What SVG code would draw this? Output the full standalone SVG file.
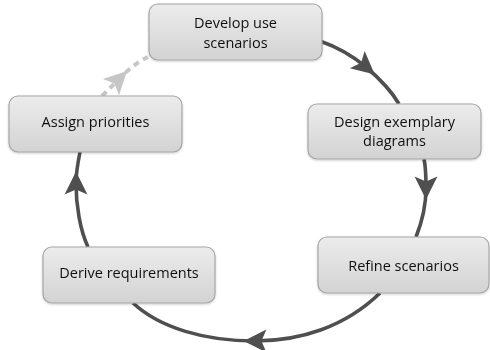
<svg xmlns="http://www.w3.org/2000/svg" width="490" height="350" viewBox="0 0 490 350">
<style>
.box{fill:url(#g);stroke:#a6a6a6;stroke-width:1.2}
.lbl{font-family:"Open Sans","Liberation Sans",sans-serif;font-size:14.5px;fill:#111;text-anchor:middle}
.c{fill:none;stroke:#4f4f4f;stroke-width:3.6;marker-mid:url(#ah)}
.d{fill:none;stroke:#c6c6c6;stroke-width:4;stroke-dasharray:6 5;marker-mid:url(#ahd)}
</style>
<defs>
<linearGradient id="g" x1="0" y1="0" x2="0" y2="1">
<stop offset="0" stop-color="#ececec"/>
<stop offset="1" stop-color="#d3d3d3"/>
</linearGradient>
<filter id="sh" x="-10%" y="-10%" width="120%" height="130%">
<feDropShadow dx="0" dy="1" stdDeviation="1.2" flood-color="#000" flood-opacity="0.2"/>
</filter>
<marker id="ah" markerUnits="userSpaceOnUse" markerWidth="20" markerHeight="20" refX="7" refY="7" orient="auto" viewBox="0 0 14 14" overflow="visible">
<path d="M-1,-1 L15,7 L-1,15 L2.5,7 Z" fill="#4f4f4f"/>
</marker>
<marker id="ahd" markerUnits="userSpaceOnUse" markerWidth="20" markerHeight="20" refX="7" refY="7" orient="auto" viewBox="0 0 14 14" overflow="visible">
<path d="M-1,-1 L15,7 L-1,15 L2.5,7 Z" fill="#c6c6c6"/>
</marker>
</defs>
<g id="connectors">
<path class="c" d="M320,41 C340,48 354,57 366,67 C380,79 391,90 399,104"/>
<path class="c" d="M424,159 C426,168 426,178 426,188 C426,205 422,222 416,237"/>
<path class="c" d="M380,293 C345,327 300,341 255,341 C205,341 160,328 133,303"/>
<path class="c" d="M88,247 C80,230 76,205 76,183 C76,172 78,162 80,152"/>
<path class="d" d="M102,96 C108,90 113,85 119,79 C128,70 137,62 148,57"/>
</g>
<g id="n1" filter="url(#sh)">
<rect class="box" x="149" y="4" width="173" height="56" rx="9"/>
<text class="lbl" x="235.5" y="28">Develop use</text>
<text class="lbl" x="235.5" y="48">scenarios</text>
</g>
<g id="n2" filter="url(#sh)">
<rect class="box" x="308" y="104" width="173" height="55" rx="9"/>
<text class="lbl" x="394.5" y="127">Design exemplary</text>
<text class="lbl" x="394.5" y="146">diagrams</text>
</g>
<g id="n3" filter="url(#sh)">
<rect class="box" x="318" y="237" width="171" height="56" rx="9"/>
<text class="lbl" x="403.5" y="271">Refine scenarios</text>
</g>
<g id="n4" filter="url(#sh)">
<rect class="box" x="43" y="247" width="172" height="56" rx="9"/>
<text class="lbl" x="129" y="278">Derive requirements</text>
</g>
<g id="n5" filter="url(#sh)">
<rect class="box" x="9" y="96" width="173" height="56" rx="9"/>
<text class="lbl" x="95.5" y="127">Assign priorities</text>
</g>
</svg>
